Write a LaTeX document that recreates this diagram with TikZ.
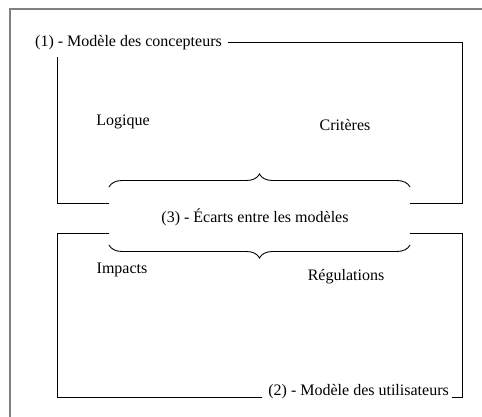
\documentclass[tikz,border=0pt]{standalone}
\usepackage{fontspec}
\setmainfont{Liberation Serif}
\usetikzlibrary{decorations.pathreplacing}
\begin{document}
\begin{tikzpicture}[x=1pt,y=-1pt,
  lbl/.style={inner sep=0pt, font=\fontsize{16}{19}\selectfont},
  boxline/.style={draw=black, line width=0.9pt},
  frameline/.style={draw=black!50, line width=1.3pt},
  bracepath/.style={draw=black, line width=0.9pt, decorate, decoration={brace, amplitude=13pt}}]
\useasboundingbox (0,0) rectangle (482,417);
% outer partial frame
\draw[frameline] (10,417) -- (10,9) -- (482,9);
% labels
\node[lbl, anchor=west] (t1) at (35,43) {(1) - Modèle des concepteurs};
\node[lbl] (logique) at (123,122) {Logique};
\node[lbl] (criteres) at (345,125) {Critères};
\node[lbl] (t3) at (255,217) {(3) - Écarts entre les modèles};
\node[lbl] (impacts) at (122,270) {Impacts};
\node[lbl] (regul) at (346,277) {Régulations};
\node[lbl, anchor=base east] (t2) at (449,395) {(2) - Modèle des utilisateurs};
% top box
\coordinate (a1) at (228,42);
\draw[boxline] (a1) -- (462,42) -- (462,203) -- (410,203);
\draw[boxline] (109,203) -- (57,203) -- (57,57);
% bottom box
\draw[boxline] (109,233) -- (57,233) -- (57,397) -- (262,397);
\draw[boxline] (452,397) -- (462,397) -- (462,233) -- (410,233);
% braces
\draw[bracepath] (109,187) -- (410,187);
\draw[bracepath] (410,245) -- (109,245);
\end{tikzpicture}
\end{document}
